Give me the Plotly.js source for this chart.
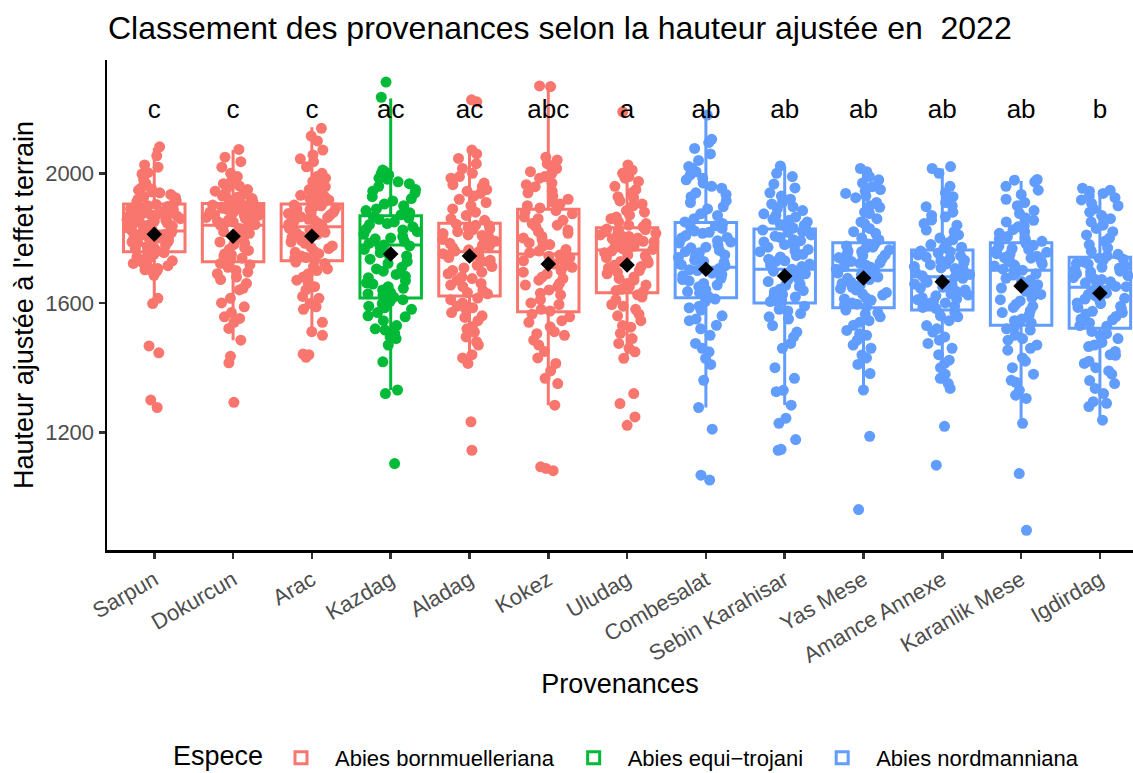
<!DOCTYPE html>
<html>
<head>
<meta charset="utf-8">
<script src="https://cdn.plot.ly/plotly-3.0.1.min.js"></script>
<style>html,body{margin:0;padding:0;background:#fff;}#chart{width:1133px;height:773px;}</style>
</head>
<body>
<div id="chart"></div>
<script>
// ---------- DATA ----------
const provenances = ['Sarpun','Dokurcun','Arac','Kazdag','Aladag','Kokez','Uludag','Combesalat','Sebin Karahisar','Yas Mese','Amance Annexe','Karanlik Mese','Igdirdag'];
const especes = ['Abies bornmuelleriana','Abies equi\u2212trojani','Abies nordmanniana'];
const especeOfProvenance = ['Abies bornmuelleriana','Abies bornmuelleriana','Abies bornmuelleriana','Abies equi\u2212trojani','Abies bornmuelleriana','Abies bornmuelleriana','Abies bornmuelleriana','Abies nordmanniana','Abies nordmanniana','Abies nordmanniana','Abies nordmanniana','Abies nordmanniana','Abies nordmanniana'];
const letters = ['c','c','c','ac','ac','abc','a','ab','ab','ab','ab','ab','b'];

// box statistics
const q1      = [1758,1727,1730,1615,1621,1573,1631,1616,1600,1585,1578,1531,1522];
const medians = [1822,1840,1835,1779,1758,1751,1763,1710,1704,1701,1681,1701,1648];
const q3      = [1905,1907,1905,1869,1846,1889,1832,1848,1828,1786,1763,1786,1741];
const whiskerLow  = [1598,1485,1500,1331,1413,1284,1429,1277,1285,1331,1351,1228,1240];
const whiskerHigh = [2079,2072,2142,2231,2072,2266,2031,2185,2021,2013,2015,1976,1948];
const means   = [1812,1806,1806,1751,1745,1720,1717,1704,1683,1677,1665,1652,1630];

// individual (adjusted) heights per provenance
const sarpun = [2082,2054,2026,2019,2002,1998,1980,1969,1955,1948,1943,1935,1928,1920,1912,1908,
  1900,1895,1890,1885,1880,1876,1872,1870,1866,1862,1860,1855,1850,1846,1840,1835,1830,1826,1822,1818,1812,1806,1800,1795,1790,1785,1780,1775,1770,1765,1760,
  1750,1745,1738,1730,1722,1712,1706,1701,1698,1614,1598,1467,1446,1300,1277,
  1952,1940,1925,1915,1904,1898,1888,1882,1874,1868,1858,1852,1844,1838,1832,1824,1816,1808,1798,1788,1778,1768,1755,1742,1725,1715,1702,1685];
const dokurcun = [2074,2050,2036,2019,2000,1990,1975,1961,1955,1945,1938,1930,1922,1915,1910,
  1905,1900,1896,1892,1888,1884,1880,1876,1872,1868,1864,1860,1856,1850,1845,1840,1835,1828,1820,1812,1805,1796,1788,1780,1770,1762,1752,1745,1738,1730,
  1722,1710,1700,1690,1680,1660,1645,1614,1588,1557,1552,1521,1485,1435,1415,1293,
  1968,1950,1934,1926,1918,1912,1902,1894,1886,1878,1870,1862,1852,1842,1830,1815,1800,1784,1766,1748,1735,1718,1695,1672,1640,1600,1570,1540];
const arac = [2139,2100,2072,2057,2036,2020,2000,1990,1975,1959,1950,1938,1928,1918,1910,
  1902,1898,1893,1888,1884,1880,1876,1872,1868,1864,1858,1852,1846,1840,1835,1830,1824,1818,1812,1806,1800,1792,1784,1776,1768,1760,1752,1745,1738,1732,
  1722,1712,1700,1690,1670,1660,1640,1614,1598,1588,1511,1500,1442,1432,1440,
  2115,2045,1985,1965,1945,1932,1922,1912,1900,1890,1878,1866,1855,1843,1828,1815,1802,1788,1772,1756,1740,1726,1705,1680,1650,1620,1580,1540];
const kazdag = [2282,2235,2010,2000,1995,1985,1974,1960,1950,1940,1928,1915,1900,1890,1878,
  1865,1858,1850,1842,1835,1828,1820,1812,1805,1798,1790,1784,1779,1772,1765,1755,1745,1735,1722,1710,1698,1688,1678,1668,1658,1650,1640,1632,1625,1618,
  1605,1598,1590,1580,1570,1557,1545,1530,1516,1505,1495,1418,1331,1320,1104,
  2005,1982,1968,1945,1922,1905,1885,1872,1862,1845,1825,1800,1776,1750,1728,1705,1682,1662,1645,1628,1610,1585,1560,1520,1490,1470];
const aladag = [2227,2221,2072,2046,2015,2000,1985,1970,1959,1945,1938,1920,1900,1880,1860,
  1843,1838,1832,1826,1820,1814,1808,1802,1796,1790,1784,1778,1770,1764,1758,1752,1746,1740,1732,1724,1716,1708,1700,1690,1680,1670,1660,1650,1638,1628,
  1615,1600,1590,1580,1570,1560,1545,1526,1510,1495,1470,1430,1413,1233,1145,
  2060,2030,1990,1965,1950,1930,1910,1890,1870,1855,1840,1828,1810,1792,1775,1760,1742,1728,1712,1695,1675,1655,1632,1610,1585,1555,1520,1480,1440];
const kokez = [2270,2268,2041,2030,2020,2005,2000,1985,1970,1959,1945,1930,1912,1900,1893,
  1885,1875,1865,1855,1845,1835,1825,1815,1805,1795,1785,1775,1765,1755,1748,1740,1730,1720,1710,1700,1690,1680,1670,1660,1650,1640,1625,1610,1595,1580,
  1565,1557,1545,1526,1511,1500,1485,1450,1413,1367,1351,1284,1094,1089,1082,
  2050,2015,1990,1965,1940,1920,1905,1880,1860,1840,1820,1800,1780,1760,1744,1735,1715,1695,1675,1655,1630,1600,1575,1540,1505,1470,1430,1390];
const uludag = [2190,2026,2000,1990,1985,1960,1940,1928,1915,1900,1885,1871,1860,1850,1840,
  1828,1824,1820,1815,1810,1805,1800,1795,1790,1785,1780,1775,1770,1765,1760,1755,1748,1740,1732,1724,1716,1708,1700,1690,1680,1670,1660,1650,1642,1635,
  1625,1610,1595,1580,1565,1545,1525,1506,1475,1449,1429,1320,1289,1248,1222,
  2010,1975,1950,1925,1905,1880,1865,1845,1835,1826,1818,1808,1798,1788,1778,1768,1758,1745,1728,1712,1695,1675,1655,1638,1618,1590,1560,1530,1490,1460];
const combesalat = [2180,2105,2077,2040,2021,2015,1995,1985,1970,1954,1940,1928,1910,1897,1870,
  1845,1838,1830,1822,1815,1808,1800,1792,1785,1778,1770,1762,1755,1748,1740,1732,1725,1718,1712,1706,1700,1692,1684,1676,1668,1660,1650,1640,1630,1620,
  1605,1590,1578,1560,1545,1531,1520,1475,1449,1429,1361,1277,1210,1068,1053,
  2095,2060,2005,1980,1960,1935,1915,1890,1875,1860,1850,1835,1818,1802,1788,1772,1758,1744,1728,1714,1702,1688,1672,1655,1635,1612,1585,1550,1500,1460,1410];
const sebinKarahisar = [2023,1990,1967,1940,1920,1905,1897,1885,1875,1865,1858,1850,1842,1836,1831,
  1825,1818,1810,1802,1795,1788,1780,1772,1765,1758,1750,1742,1735,1728,1720,1712,1704,1698,1690,1682,1674,1666,1658,1650,1642,1634,1626,1618,1610,1604,
  1590,1575,1567,1557,1530,1495,1475,1367,1326,1284,1244,1228,1178,1145,1148,
  2000,1955,1930,1910,1890,1870,1855,1840,1832,1820,1806,1792,1776,1760,1746,1730,1716,1700,1686,1670,1654,1638,1622,1606,1580,1550,1510,1460,1400,1330];
const yasMese = [2015,1990,1970,1959,1945,1938,1925,1910,1895,1876,1860,1845,1830,1815,1800,
  1782,1776,1770,1764,1758,1752,1746,1740,1734,1728,1722,1716,1710,1704,1698,1692,1686,1680,1672,1664,1656,1648,1640,1632,1624,1616,1608,1600,1594,1588,
  1578,1565,1557,1545,1531,1515,1500,1485,1460,1439,1410,1382,1331,1188,962,
  2005,1980,1950,1930,1900,1880,1850,1820,1795,1784,1772,1760,1748,1736,1724,1712,1700,1688,1676,1660,1644,1628,1612,1596,1570,1540,1505,1470,1430];
const amanceAnnexe = [2021,2015,1960,1928,1910,1897,1880,1866,1856,1840,1825,1810,1795,1780,1770,
  1760,1754,1748,1742,1736,1730,1724,1718,1712,1706,1700,1694,1688,1682,1676,1670,1664,1658,1652,1646,1640,1634,1628,1622,1616,1610,1604,1598,1590,1582,
  1570,1557,1545,1530,1510,1495,1485,1460,1423,1413,1367,1351,1336,1219,1099,
  2000,1940,1900,1870,1845,1820,1800,1785,1772,1758,1745,1732,1720,1708,1696,1684,1672,1660,1648,1636,1624,1612,1600,1586,1560,1520,1475,1440,1400,1380];
const karanlikMese = [1981,1979,1974,1948,1920,1900,1876,1862,1850,1838,1826,1815,1805,1798,1790,
  1782,1775,1768,1762,1756,1750,1744,1738,1732,1726,1720,1714,1708,1701,1694,1686,1676,1666,1656,1646,1636,1626,1616,1606,1596,1586,1576,1562,1550,1538,
  1525,1516,1500,1485,1470,1454,1430,1400,1361,1355,1315,1305,1228,1073,898,
  1960,1935,1910,1885,1855,1835,1820,1800,1792,1778,1765,1752,1740,1728,1716,1704,1690,1670,1650,1630,1610,1590,1570,1545,1520,1490,1460,1420,1380,1330];
const igdirdag = [1954,1948,1938,1930,1918,1907,1890,1870,1850,1830,1810,1790,1770,1760,1750,
  1738,1732,1726,1720,1714,1708,1702,1696,1690,1684,1678,1672,1665,1658,1651,1644,1637,1630,1622,1614,1606,1598,1590,1582,1574,1566,1558,1548,1538,1528,
  1512,1500,1490,1478,1465,1450,1438,1413,1400,1380,1351,1336,1295,1290,1238,
  1945,1925,1900,1880,1860,1840,1820,1800,1780,1745,1735,1722,1710,1698,1686,1674,1662,1650,1638,1626,1612,1600,1586,1570,1550,1530,1505,1470,1440,1420,1390,1360,1320,1280];

const pointsByProvenance = [sarpun,dokurcun,arac,kazdag,aladag,kokez,uludag,combesalat,sebinKarahisar,yasMese,amanceAnnexe,karanlikMese,igdirdag];
const letterY = 2192;
const legendTitle = 'Espece';

// ---------- STYLE ----------
const colors = {'Abies bornmuelleriana':'#F8766D','Abies equi\u2212trojani':'#00BA38','Abies nordmanniana':'#619CFF'};
const FONT = 'Liberation Sans, Arial, Helvetica, sans-serif';
const BOXW = 0.78;

const traces = [];
// boxes (precomputed stats)
especes.forEach(function(sp){
  const idx = provenances.map(function(p,i){return i;}).filter(function(i){return especeOfProvenance[i]===sp;});
  traces.push({
    type:'box', name: sp, legendgroup: sp, showlegend: true,
    x: idx.map(function(i){return provenances[i];}),
    q1: idx.map(function(i){return q1[i];}),
    median: idx.map(function(i){return medians[i];}),
    q3: idx.map(function(i){return q3[i];}),
    lowerfence: idx.map(function(i){return whiskerLow[i];}),
    upperfence: idx.map(function(i){return whiskerHigh[i];}),
    boxpoints: false, width: BOXW, whiskerwidth: 0,
    line: {color: colors[sp], width: 3},
    fillcolor: 'rgba(255,255,255,0)',
    hoverinfo: 'skip'
  });
});
// jittered points (hidden box, library jitter)
especes.forEach(function(sp){
  const xs = [], ys = [];
  provenances.forEach(function(p,i){
    if (especeOfProvenance[i]!==sp) return;
    pointsByProvenance[i].forEach(function(v){ xs.push(p); ys.push(v); });
  });
  traces.push({
    type:'box', name: sp, legendgroup: sp, showlegend: false,
    x: xs, y: ys, boxpoints: 'all', jitter: 0.95, pointpos: 0, width: BOXW,
    line: {color: 'rgba(0,0,0,0)', width: 0}, fillcolor: 'rgba(0,0,0,0)',
    marker: {color: colors[sp], size: 11, line: {width: 0}},
    hoveron: 'points'
  });
});
// means
traces.push({
  type:'scatter', mode:'markers', x: provenances, y: means, showlegend:false,
  marker:{symbol:'diamond', size:12, color:'#000000', line:{width:0}}
});
// letters
traces.push({
  type:'scatter', mode:'text', x: provenances, y: provenances.map(function(){return letterY;}),
  text: letters, textposition:'middle center', showlegend:false, cliponaxis:false,
  textfont:{family:FONT, size:26, color:'#000000'}, hoverinfo:'skip'
});

const layout = {
  width:1133, height:773,
  margin:{l:107, r:0, t:60, b:223, autoexpand:false},
  paper_bgcolor:'#ffffff', plot_bgcolor:'#ffffff',
  font:{family:FONT, color:'#000000'},
  title:{text:'Classement des provenances selon la hauteur ajustée en  2022', xref:'container', yref:'container',
    x:108/1133, xanchor:'left', y:1-28/773, yanchor:'middle', font:{family:FONT, size:32, color:'#000000'}},
  boxmode:'overlay',
  showlegend:true,
  xaxis:{type:'category', categoryorder:'array', categoryarray: provenances,
    range:[-0.6, 12.42], showline:true, linecolor:'#000000', linewidth:2.5, mirror:false,
    ticks:'outside', ticklen:6, tickwidth:2.5, tickcolor:'#333333', showgrid:false, zeroline:false,
    tickangle:-30, tickfont:{family:FONT, size:22, color:'#4d4d4d'},
    title:{text:'Provenances', font:{family:FONT, size:27, color:'#000000'}, standoff:7}},
  yaxis:{range:[837, 2350], tickvals:[1200,1600,2000], showline:true, linecolor:'#000000', linewidth:2.5,
    ticks:'outside', ticklen:6, tickwidth:2.5, tickcolor:'#333333', showgrid:false, zeroline:false,
    tickfont:{family:FONT, size:22, color:'#4d4d4d'},
    title:{text:"Hauteur ajustée à l'effet terrain", font:{family:FONT, size:27, color:'#000000'}, standoff:4}},
  legend:{orientation:'h', xref:'container', yref:'container', x:267/1133, xanchor:'left', y:1-758/773, yanchor:'middle',
    itemwidth:58,
    font:{family:FONT, size:22, color:'#000000'}, bgcolor:'rgba(0,0,0,0)'},
  annotations:[{text: legendTitle, xref:'paper', yref:'paper', x:(172-107)/1026, xanchor:'left',
    y:-(756-550)/490, yanchor:'middle', showarrow:false, borderpad:0, font:{family:FONT, size:27, color:'#000000'}}]
};

Plotly.newPlot('chart', traces, layout, {displayModeBar:false, staticPlot:true});
</script>
</body>
</html>
